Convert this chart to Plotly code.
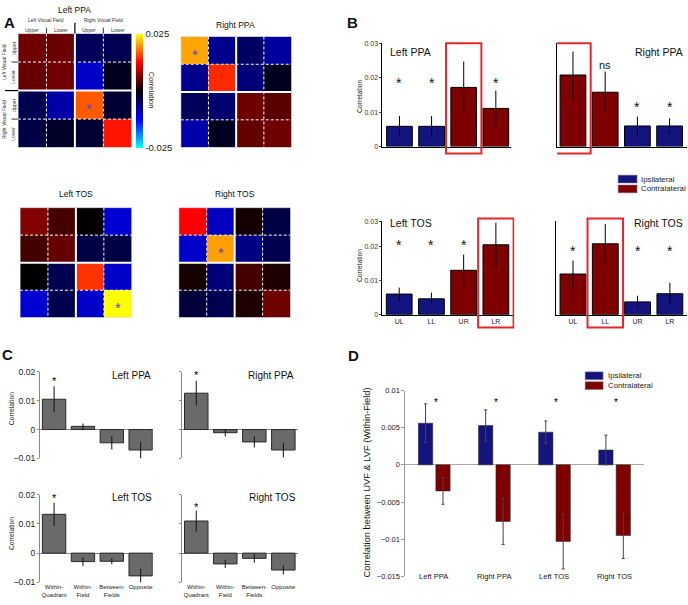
import plotly.graph_objects as go

W, H = 688, 605
FONT = "Liberation Sans, Arial, Helvetica, sans-serif"

# ---------------- data ----------------
quadrants = ["UL", "LL", "UR", "LR"]
roi_names = ["Left PPA", "Right PPA", "Left TOS", "Right TOS"]

# Panel A: 4x4 correlation matrices (rows/cols: LVF upper, LVF lower, RVF upper, RVF lower)
A_left_ppa = [
    [0.0055, 0.0052, -0.0044, -0.0039],
    [0.0050, 0.0056, -0.0098, -0.0015],
    [-0.0039, -0.0083, 0.0169, -0.0025],
    [-0.0034, -0.0020, -0.0025, 0.0135],
]
A_right_ppa = [
    [0.0206, -0.0069, -0.0049, -0.0078],
    [-0.0069, 0.0145, -0.0059, -0.0015],
    [-0.0044, -0.0054, 0.0054, 0.0044],
    [-0.0083, -0.0015, 0.0049, 0.0054],
]
A_left_tos = [
    [0.0064, 0.0034, 0.0002, -0.0103],
    [0.0034, 0.0049, -0.0034, -0.0034],
    [0.0000, -0.0039, 0.0150, -0.0098],
    [-0.0103, -0.0039, -0.0098, 0.0250],
]
A_right_tos = [
    [0.0125, -0.0093, 0.0010, -0.0034],
    [-0.0098, 0.0203, -0.0064, -0.0039],
    [0.0010, -0.0059, 0.0034, 0.0015],
    [-0.0029, -0.0039, 0.0015, 0.0054],
]
A_star_row = [2, 0, 3, 1]
A_star_col = [2, 0, 3, 1]
A_cbar_ticks = [-0.025, 0.025]

# Panel B: within-quadrant correlation per quadrant
B_left_ppa = [0.0059, 0.0059, 0.0172, 0.0111]
B_left_ppa_err = [0.0030, 0.0030, 0.0075, 0.0052]
B_right_ppa = [0.0208, 0.0158, 0.0060, 0.0060]
B_right_ppa_err = [0.0068, 0.0060, 0.0027, 0.0022]
B_left_tos = [0.0061, 0.0047, 0.0131, 0.0206]
B_left_tos_err = [0.0019, 0.0018, 0.0046, 0.0065]
B_right_tos = [0.0120, 0.0209, 0.0038, 0.0062]
B_right_tos_err = [0.0040, 0.0058, 0.0018, 0.0032]
B_side_left_roi = ["Ipsilateral", "Ipsilateral", "Contralateral", "Contralateral"]
B_side_right_roi = ["Contralateral", "Contralateral", "Ipsilateral", "Ipsilateral"]
B_boxed = ["UR", "UL", "LR", "LL"]
B_sig_left_ppa = ["*", "*", "", "*"]
B_sig_right_ppa = ["", "ns", "*", "*"]
B_sig_left_tos = ["*", "*", "*", ""]
B_sig_right_tos = ["*", "", "*", "*"]
B_sig_y_left_ppa = [0.0197, 0.0197, 0.0197, 0.0197]
B_sig_y_right_ppa = [0.0126, 0.0238, 0.0126, 0.0126]
B_sig_y_left_tos = [0.0216, 0.0216, 0.0216, 0.0216]
B_sig_y_right_tos = [0.0200, 0.0200, 0.0200, 0.0200]
B_ytick_vals = [0, 0.01, 0.02]
B_ytick_text = ["0", "0.01", "0.02", "0.03"]

# Panel C: correlation by quadrant relation
C_categories = ["Within-<br>Quadrant", "Within-<br>Field", "Between-<br>Fields", "Opposite"]
C_left_ppa = [0.0105, 0.0011, -0.0046, -0.0071]
C_left_ppa_err = [0.0045, 0.0010, 0.0023, 0.0029]
C_right_ppa = [0.0126, -0.0011, -0.0043, -0.0071]
C_right_ppa_err = [0.0043, 0.0013, 0.0019, 0.0025]
C_left_tos = [0.0133, -0.0029, -0.0028, -0.0078]
C_left_tos_err = [0.0040, 0.0015, 0.0010, 0.0024]
C_right_tos = [0.0110, -0.0037, -0.0018, -0.0058]
C_right_tos_err = [0.0036, 0.0014, 0.0015, 0.0015]
C_sig = ["*", "", "", ""]
C_sig_y = [0.0177, 0.0199, 0.0199, 0.0170]

# Panel D: correlation between UVF & LVF (within-field)
D_regions = ["Left PPA", "Right PPA", "Left TOS", "Right TOS"]
D_ipsi = [0.0056, 0.0053, 0.0044, 0.0020]
D_ipsi_err = [0.0026, 0.0021, 0.0015, 0.0020]
D_contra = [-0.0035, -0.0076, -0.0103, -0.0095]
D_contra_err = [0.0018, 0.0031, 0.0037, 0.0031]
D_sig_y = [0.0088, 0.0088, 0.0088, 0.0088]

# ---------------- styling / helpers ----------------
COL = {"Ipsilateral": "#14147f", "Contralateral": "#7f0000"}
GRAY = "#6a6a6a"


def px(x):
    return x / W


def py(y):
    return 1 - y / H


def xd(a, b):
    return [a / W, b / W]


def yd(top, bottom):
    return [1 - bottom / H, 1 - top / H]


def names(n):
    if n == 1:
        return "x", "y", "xaxis", "yaxis"
    return f"x{n}", f"y{n}", f"xaxis{n}", f"yaxis{n}"


fig = go.Figure()
ann = []
shapes = []
axes = {}


def text(x, y, s, size, xanchor="center", angle=0, bold=False, color="#111"):
    ann.append(dict(x=px(x), y=py(y), xref="paper", yref="paper", text=f"<b>{s}</b>" if bold else s,
                    showarrow=False, xanchor=xanchor, yanchor="middle", textangle=angle,
                    font=dict(size=size, color=color, family=FONT)))


def pline(x0, y0, x1, y1, w=1, color="black"):
    shapes.append(dict(type="line", xref="paper", yref="paper", x0=px(x0), y0=py(y0), x1=px(x1), y1=py(y1),
                       line=dict(color=color, width=w)))


# ---------------- Panel A ----------------
heat_data = [A_left_ppa, A_right_ppa, A_left_tos, A_right_tos]
heat_box = [(18, 132, 29, 145), (181, 292, 32, 145), (20, 132, 206, 318), (179, 291, 206, 318)]
heat_title = [(75, 5), (236, 20), (76, 192), (235, 192)]
for i, z in enumerate(heat_data):
    n = i + 1
    xr, yr, xk, yk = names(n)
    x0, x1, y0, y1 = heat_box[i]
    fig.add_trace(go.Heatmap(z=z, x=[0, 1, 2, 3], y=[0, 1, 2, 3], coloraxis="coloraxis",
                             xaxis=xr, yaxis=yr, hoverinfo="skip"))
    axes[xk] = dict(domain=xd(x0, x1), range=[-0.5, 3.5], visible=False, anchor=yr)
    axes[yk] = dict(domain=yd(y0, y1), range=[3.5, -0.5], visible=False, anchor=xr)
    for k, w, dash in [(0.5, 1, "3px,2px"), (1.5, 2, "solid"), (2.5, 1, "3px,2px")]:
        shapes.append(dict(type="line", xref=xr, yref=yr, x0=k, x1=k, y0=-0.5, y1=3.5,
                           line=dict(color="white", width=w, dash=dash)))
        shapes.append(dict(type="line", xref=xr, yref=yr, y0=k, y1=k, x0=-0.5, x1=3.5,
                           line=dict(color="white", width=w, dash=dash)))
    shapes.append(dict(type="rect", xref=xr, yref=yr, x0=-0.5, x1=3.5, y0=-0.5, y1=3.5,
                       line=dict(color="#d8d8e8", width=1)))
    ann.append(dict(x=A_star_col[i], y=A_star_row[i], xref=xr, yref=yr, text="*", showarrow=False,
                    yshift=-4, font=dict(size=15, color="#5a3fd0", family=FONT)))
    text(heat_title[i][0], heat_title[i][1], roi_names[i], 8.5)

# visual field labels around the Left PPA matrix
lx0, lx1, ly0, ly1 = heat_box[0]
cw = (lx1 - lx0) / 4
rh = (ly1 - ly0) / 4
text(lx0 + cw, 15.5, "Left Visual Field", 5, color="#333")
text(lx0 + 3 * cw, 15.5, "Right Visual Field", 5, color="#333")
text(4, ly0 + rh, "Left Visual Field", 5, angle=-90, color="#333")
text(4, ly0 + 3 * rh, "Right Visual Field", 5, angle=-90, color="#333")
for j, lab in enumerate(["Upper", "Lower", "Upper", "Lower"]):
    text(lx0 + (j + 0.5) * cw, 25.5, lab, 5, color="#333")
    text(13.5, ly0 + (j + 0.5) * rh, lab, 5, angle=-90, color="#333")
pline(lx0 + 2 * cw, 18, lx0 + 2 * cw, ly0, 1.2)
pline(lx0 + cw, 23, lx0 + cw, ly0, 0.8)
pline(lx0 + 3 * cw, 23, lx0 + 3 * cw, ly0, 0.8)
pline(5, ly0 + 2 * rh, lx0, ly0 + 2 * rh, 1.2)
pline(11.5, ly0 + rh, lx0, ly0 + rh, 0.8)
pline(11.5, ly0 + 3 * rh, lx0, ly0 + 3 * rh, 0.8)
text(152, 87, "Correlation", 7.5, angle=90, color="#222")

# ---------------- Panel B ----------------
B_vals = [B_left_ppa, B_right_ppa, B_left_tos, B_right_tos]
B_errs = [B_left_ppa_err, B_right_ppa_err, B_left_tos_err, B_right_tos_err]
B_sides = [B_side_left_roi, B_side_right_roi, B_side_left_roi, B_side_right_roi]
B_sigs = [B_sig_left_ppa, B_sig_right_ppa, B_sig_left_tos, B_sig_right_tos]
B_sigy = [B_sig_y_left_ppa, B_sig_y_right_ppa, B_sig_y_left_tos, B_sig_y_right_tos]
b_dx = [(383, 512), (558, 688), (383, 515), (557, 688)]
b_dy = [(39, 144), (39, 144), (220, 315), (220, 315)]
b_xr = [[-0.53, 3.48], [-0.49, 3.54], [-0.52, 3.57], [-0.52, 3.53]]
b_ymax = [0.03, 0.03, 0.0275, 0.0275]
b_title = [(389, 48, "left"), (686, 48, "right"), (389, 222, "left"), (686, 222, "right")]
b_box = [(39, 151), (39, 151), (217, 328), (217, 328)]
for i in range(4):
    n = 5 + i
    xr, yr, xk, yk = names(n)
    fig.add_trace(go.Bar(x=list(range(4)), y=B_vals[i], width=0.8, offset=-0.4,
                         marker=dict(color=[COL[s] for s in B_sides[i]], line=dict(color="black", width=1)),
                         error_y=dict(type="data", array=B_errs[i], color="black", thickness=1, width=0),
                         xaxis=xr, yaxis=yr, hoverinfo="skip"))
    bottom_row = i >= 2
    axes[xk] = dict(domain=xd(*b_dx[i]), range=b_xr[i], anchor=yr, showline=True, linecolor="black",
                    linewidth=1, ticks="", showgrid=False, zeroline=False, tickvals=list(range(4)),
                    ticktext=quadrants, showticklabels=bottom_row,
                    tickfont=dict(size=7, color="#222", family=FONT))
    axes[yk] = dict(domain=yd(*b_dy[i]), range=[0, b_ymax[i]], anchor=xr, showline=True, linecolor="black",
                    linewidth=1, showgrid=False, zeroline=False,
                    tickvals=B_ytick_vals + [b_ymax[i]], ticktext=B_ytick_text,
                    showticklabels=(i % 2 == 0), ticks="outside" if i % 2 == 0 else "", ticklen=2,
                    tickfont=dict(size=7, color="#333", family=FONT))
    k = quadrants.index(B_boxed[i])
    shapes.append(dict(type="rect", xref=xr, yref="paper", x0=k - 0.55, x1=k + 0.55,
                       y0=py(b_box[i][1]), y1=py(b_box[i][0]), line=dict(color="#e8262a", width=2),
                       fillcolor="rgba(0,0,0,0)", layer="above"))
    for j, lab in enumerate(B_sigs[i]):
        if lab:
            ann.append(dict(x=j, y=B_sigy[i][j], xref=xr, yref=yr, text=lab, showarrow=False,
                            yshift=-4 if lab == "*" else 0,
                            font=dict(size=14 if lab == "*" else 11, color="#111", family=FONT)))
    tx, ty, anc = b_title[i]
    text(tx, ty, roi_names[i], 10.5, xanchor=anc)
text(360, 93, "Correlation", 6.8, angle=-90, color="#222")
text(360, 265, "Correlation", 6.8, angle=-90, color="#222")
# legend B
for j, lab in enumerate(["Ipsilateral", "Contralateral"]):
    top = 173 + j * 10
    shapes.append(dict(type="rect", xref="paper", yref="paper", x0=px(619), x1=px(638), y0=py(top + 8),
                       y1=py(top), fillcolor=COL[lab], line=dict(color="#888", width=0.5)))
    text(640, top + 4, lab, 7.8, xanchor="left", color="#222")

# ---------------- Panel C ----------------
C_vals = [C_left_ppa, C_right_ppa, C_left_tos, C_right_tos]
C_errs = [C_left_ppa_err, C_right_ppa_err, C_left_tos_err, C_right_tos_err]
c_dx = [(40, 153), (182, 298), (40, 153), (182, 298)]
c_dy = [(373, 461), (373, 461), (498, 587), (498, 587)]
c_xr = [[-0.49, 3.42], [-0.5, 3.49], [-0.49, 3.42], [-0.5, 3.49]]
c_title = [(153, 377), (296, 377), (154, 501), (298, 501)]
for i in range(4):
    n = 9 + i
    xr, yr, xk, yk = names(n)
    fig.add_trace(go.Bar(x=list(range(4)), y=C_vals[i], width=0.81, offset=-0.405,
                         marker=dict(color=GRAY, line=dict(color="#2a2a2a", width=1)),
                         error_y=dict(type="data", array=C_errs[i], color="#111", thickness=1, width=0),
                         xaxis=xr, yaxis=yr, hoverinfo="skip"))
    bottom_row = i >= 2
    axes[xk] = dict(domain=xd(*c_dx[i]), range=c_xr[i], anchor=yr, showline=False, ticks="",
                    showgrid=False, zeroline=False, tickvals=list(range(4)), ticktext=C_categories,
                    showticklabels=bottom_row, tickfont=dict(size=6, color="#222", family=FONT))
    axes[yk] = dict(domain=yd(*c_dy[i]), range=[-0.01, 0.02], anchor=xr, showline=True, linecolor="#888",
                    linewidth=1, showgrid=False, zeroline=True, zerolinecolor="#888", zerolinewidth=1,
                    dtick=0.01, tick0=0, showticklabels=(i % 2 == 0), ticks="outside", ticklen=2,
                    tickcolor="#888", tickfont=dict(size=8.6, color="#222", family=FONT))
    for j, lab in enumerate(C_sig):
        if lab:
            ann.append(dict(x=j, y=C_sig_y[i], xref=xr, yref=yr, text=lab, showarrow=False, yshift=-3,
                            font=dict(size=11, color="#000", family=FONT)))
    text(c_title[i][0], c_title[i][1], roi_names[i], 10, xanchor="right")
text(11, 410, "Correlation", 6.8, angle=-90, color="#222")
text(11, 537, "Correlation", 6.8, angle=-90, color="#222")

# ---------------- Panel D ----------------
xr, yr, xk, yk = names(13)
fig.add_trace(go.Bar(x=list(range(4)), y=D_ipsi, width=0.238, offset=-0.264, name="Ipsilateral",
                     marker=dict(color=COL["Ipsilateral"], line=dict(color="#222", width=0.5)),
                     error_y=dict(type="data", array=D_ipsi_err, color="#444", thickness=1, width=1.5),
                     xaxis=xr, yaxis=yr, hoverinfo="skip"))
fig.add_trace(go.Bar(x=list(range(4)), y=D_contra, width=0.238, offset=0.026, name="Contralateral",
                     marker=dict(color=COL["Contralateral"], line=dict(color="#222", width=0.5)),
                     error_y=dict(type="data", array=D_contra_err, color="#444", thickness=1, width=1.5),
                     xaxis=xr, yaxis=yr, hoverinfo="skip"))
axes[xk] = dict(domain=xd(406, 645), range=[-0.48, 3.49], anchor=yr, showline=False, ticks="",
                showticklabels=False, showgrid=False, zeroline=False)
axes[yk] = dict(domain=yd(392, 581), range=[-0.015, 0.01], anchor=xr, showline=True, linecolor="#999",
                linewidth=1, showgrid=False, zeroline=True, zerolinecolor="#aaa", zerolinewidth=1,
                dtick=0.005, tick0=0, ticks="outside", ticklen=3, tickcolor="#999",
                tickfont=dict(size=7.5, color="#222", family=FONT))
for j, reg in enumerate(D_regions):
    ann.append(dict(x=j, y=py(581), xref=xr, yref="paper", text=reg, showarrow=False, yanchor="middle",
                    font=dict(size=7.6, color="#222", family=FONT)))
    ann.append(dict(x=j + 0.03, y=D_sig_y[j], xref=xr, yref=yr, text="*", showarrow=False, yshift=-3,
                    font=dict(size=10, color="#000", family=FONT)))
text(368, 485, "Correlation between UVF &amp; LVF (Within-Field)", 9.3, angle=-90, color="#111")
for j, lab in enumerate(["Ipsilateral", "Contralateral"]):
    top = 373 + j * 10
    shapes.append(dict(type="rect", xref="paper", yref="paper", x0=px(586), x1=px(604), y0=py(top + 8),
                       y1=py(top), fillcolor=COL[lab], line=dict(color="#888", width=0.5)))
    text(606.5, top + 4, lab, 7.8, xanchor="left", color="#222")

# panel letters
text(10, 18, "A", 15, bold=True)
text(353, 18, "B", 15, bold=True)
text(8, 355, "C", 15, bold=True)
text(354, 356, "D", 15, bold=True)

fig.update_layout(
    width=W, height=H, margin=dict(l=0, r=0, t=0, b=0),
    paper_bgcolor="white", plot_bgcolor="white", showlegend=False, hovermode=False,
    font=dict(family=FONT, color="#111"),
    coloraxis=dict(
        cmin=-0.025, cmax=0.025,
        colorscale=[[0, "#00ffff"], [0.25, "#0000ff"], [0.5, "#000000"], [0.75, "#ff0000"], [1, "#ffff00"]],
        colorbar=dict(x=px(136), xanchor="left", y=py(87), yanchor="middle", len=116 / H, lenmode="fraction",
                      thickness=7, thicknessmode="pixels", outlinewidth=0, xpad=0, ypad=0,
                      tickvals=A_cbar_ticks, ticktext=[f"{v:g}" for v in A_cbar_ticks], ticks="",
                      tickfont=dict(size=9.5, color="#222", family=FONT)),
    ),
    annotations=ann, shapes=shapes, **axes,
)

fig.write_html("out.html", config={"displayModeBar": False},
               post_script="document.body.style.margin='0';document.body.style.overflow='hidden';")
